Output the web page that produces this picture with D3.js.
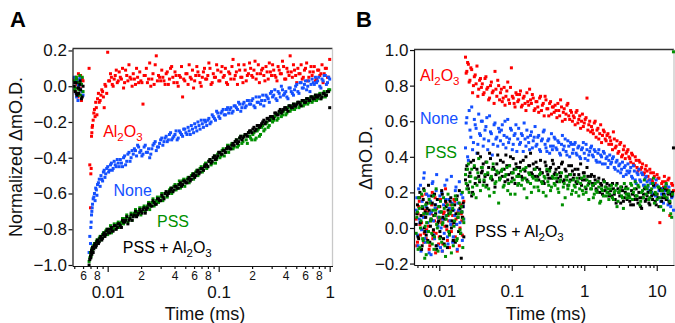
<!DOCTYPE html>
<html><head><meta charset="utf-8">
<script src="https://cdn.jsdelivr.net/npm/d3@7"></script>
<style>body{margin:0;background:#fff}svg{display:block}text{font-family:"Liberation Sans",Arial,Helvetica,sans-serif}</style>
</head><body><svg id="c" width="675" height="323"></svg>
<script>
// ---------- Panel A data (normalized), sweep 1 ----------
const timesA = [
0.0050,0.0051,0.0052,0.0053,0.0054,0.0055,0.0056,0.0057,0.0058,0.0060,
0.0068,0.0070,0.0071,0.0072,0.0073,0.0075,0.0077,0.0079,0.0081,0.0084,
0.0087,0.0090,0.0093,0.0096,0.0100,0.0104,0.0108,0.0112,0.0117,0.0122,
0.0127,0.0133,0.0139,0.0145,0.0152,0.0159,0.0166,0.0174,0.0182,0.0190,
0.0199,0.0208,0.0218,0.0228,0.0239,0.0250,0.0262,0.0274,0.0287,0.0300,
0.0314,0.0329,0.0344,0.0360,0.0377,0.0395,0.0413,0.0432,0.0452,0.0473,
0.0495,0.0518,0.0542,0.0567,0.0594,0.0621,0.0650,0.0680,0.0712,0.0745,
0.0780,0.0816,0.0854,0.0894,0.0936,0.0980,0.1025,0.1073,0.1123,0.1175,
0.1230,0.1287,0.1347,0.1410,0.1476,0.1545,0.1617,0.1692,0.1771,0.1853,
0.1940,0.2030,0.2125,0.2224,0.2327,0.2436,0.2550,0.2668,0.2793,0.2923,
0.3059,0.3202,0.3351,0.3507,0.3670,0.3841,0.4020,0.4208,0.4404,0.4609,
0.4824,0.5049,0.5284,0.5530,0.5788,0.6058,0.6340,0.6636,0.6945,0.7269,
0.7608,0.7963,0.8334,0.8722,0.9129,0.9554,1.0000];
const aAl2O3 = [
0.04,-0.03,0.05,0.01,-0.06,0.02,-0.02,0.06,-0.08,0.03,
0.10,-0.68,-0.46,-0.26,-0.22,-0.15,-0.17,-0.12,-0.07,-0.09,
-0.05,-0.03,-0.12,0.00,0.19,0.03,0.05,0.00,0.06,0.02,
0.08,0.04,-0.01,0.09,0.03,0.05,0.00,0.04,0.10,0.02,
0.03,-0.10,0.06,0.02,0.13,0.04,0.01,0.17,0.06,0.03,
0.05,0.01,0.08,0.04,0.11,0.02,0.06,0.00,0.05,-0.06,
0.03,0.07,0.12,0.04,-0.01,0.06,0.08,0.02,0.05,0.10,
0.04,0.13,0.01,0.07,0.05,0.09,0.03,0.11,0.06,0.02,
0.08,0.04,0.15,0.06,0.01,0.09,0.05,0.12,0.03,0.07,
0.10,0.05,0.14,0.07,0.02,0.09,0.06,0.11,0.04,0.08,
0.12,0.06,0.03,0.09,0.07,0.11,0.04,0.08,0.17,0.05,
0.09,0.02,0.07,0.12,0.05,0.10,0.03,0.08,0.06,0.11,
0.04,0.09,0.07,0.02,0.10,0.05,0.15];
const aNone = [
0.05,0.02,-0.04,0.03,-0.08,0.00,0.04,-0.02,0.01,-0.05,
-0.93,-0.88,-0.76,-0.70,-0.66,-0.62,-0.64,-0.58,-0.55,-0.52,
-0.50,-0.53,-0.47,-0.49,-0.45,-0.47,-0.43,-0.46,-0.44,-0.41,
-0.45,-0.43,-0.40,-0.44,-0.38,-0.42,-0.36,-0.35,-0.39,-0.34,
-0.36,-0.38,-0.33,-0.37,-0.40,-0.35,-0.32,-0.36,-0.34,-0.30,
-0.33,-0.29,-0.31,-0.27,-0.30,-0.28,-0.25,-0.29,-0.26,-0.28,
-0.24,-0.27,-0.25,-0.22,-0.26,-0.23,-0.20,-0.24,-0.21,-0.19,
-0.22,-0.18,-0.20,-0.17,-0.19,-0.15,-0.18,-0.14,-0.16,-0.13,
-0.15,-0.12,-0.14,-0.11,-0.13,-0.10,-0.12,-0.09,-0.11,-0.08,
-0.10,-0.07,-0.12,-0.09,-0.06,-0.08,-0.11,-0.05,-0.07,-0.04,
-0.06,-0.02,-0.08,-0.04,0.00,-0.05,-0.03,-0.07,-0.01,-0.04,
-0.02,0.01,-0.04,0.02,-0.01,0.03,0.00,-0.03,0.04,0.01,
0.02,0.05,-0.01,0.03,0.06,0.02,0.04];
const aPSS = [
0.03,-0.01,0.05,-0.04,0.02,-0.02,0.06,-0.05,0.01,-0.03,
-0.98,-0.93,-0.95,-0.91,-0.92,-0.89,-0.90,-0.87,-0.88,-0.85,
-0.86,-0.83,-0.84,-0.81,-0.83,-0.80,-0.82,-0.79,-0.80,-0.77,
-0.79,-0.76,-0.77,-0.74,-0.76,-0.73,-0.75,-0.71,-0.72,-0.70,
-0.72,-0.68,-0.70,-0.67,-0.69,-0.65,-0.67,-0.64,-0.65,-0.62,
-0.64,-0.60,-0.62,-0.58,-0.60,-0.56,-0.58,-0.55,-0.57,-0.53,
-0.56,-0.52,-0.54,-0.50,-0.52,-0.48,-0.50,-0.46,-0.48,-0.44,
-0.46,-0.42,-0.44,-0.40,-0.43,-0.38,-0.40,-0.36,-0.39,-0.35,
-0.37,-0.33,-0.35,-0.31,-0.34,-0.29,-0.32,-0.28,-0.30,-0.26,
-0.29,-0.27,-0.30,-0.25,-0.28,-0.23,-0.25,-0.21,-0.23,-0.19,
-0.20,-0.17,-0.19,-0.15,-0.17,-0.14,-0.16,-0.12,-0.14,-0.11,
-0.13,-0.10,-0.12,-0.09,-0.11,-0.08,-0.10,-0.07,-0.09,-0.06,
-0.08,-0.05,-0.07,-0.04,-0.06,-0.03,-0.02];
const aPSSAl2O3 = [
0.00,-0.03,0.02,-0.05,-0.01,-0.04,0.01,-0.02,-0.07,0.00,
-1.00,-0.95,-0.93,-0.94,-0.90,-0.91,-0.88,-0.89,-0.86,-0.87,
-0.84,-0.85,-0.82,-0.83,-0.80,-0.82,-0.79,-0.81,-0.78,-0.79,
-0.77,-0.79,-0.76,-0.75,-0.77,-0.74,-0.75,-0.72,-0.73,-0.71,
-0.70,-0.69,-0.71,-0.68,-0.66,-0.67,-0.65,-0.66,-0.63,-0.64,
-0.62,-0.60,-0.61,-0.59,-0.57,-0.58,-0.56,-0.57,-0.54,-0.55,
-0.53,-0.54,-0.51,-0.52,-0.49,-0.50,-0.47,-0.48,-0.46,-0.45,
-0.44,-0.42,-0.43,-0.40,-0.41,-0.39,-0.37,-0.38,-0.36,-0.35,
-0.34,-0.35,-0.32,-0.31,-0.32,-0.29,-0.30,-0.28,-0.27,-0.26,
-0.25,-0.24,-0.25,-0.22,-0.23,-0.21,-0.19,-0.20,-0.18,-0.17,
-0.17,-0.15,-0.16,-0.14,-0.15,-0.13,-0.12,-0.14,-0.11,-0.12,
-0.11,-0.10,-0.09,-0.11,-0.08,-0.09,-0.07,-0.08,-0.06,-0.07,
-0.06,-0.05,-0.07,-0.04,-0.05,-0.03,-0.12];

// ---------- Panel A, sweep 2 (interleaved sample times) ----------
const timesA2 = [
0.00505,0.00525,0.00545,0.00565,0.0059,
0.0069,0.00705,0.00715,0.00725,0.0074,0.0076,0.0078,0.0080,0.00825,0.00855,
0.00885,0.00915,0.00945,0.0098,0.0102,0.0106,0.0110,0.01145,0.01195,0.01245,
0.0130,0.0136,0.0142,0.01485,0.01555,0.01625,0.0170,0.0178,0.0186,0.01945,
0.02035,0.0213,0.0223,0.02335,0.02445,0.0256,0.0268,0.02805,0.02935,0.0307,
0.03215,0.03365,0.0352,0.03685,0.0386,0.0404,0.04225,0.0442,0.04625,0.0484,
0.05065,0.053,0.05545,0.05805,0.06075,0.06355,0.0665,0.0696,0.07285,0.07625,
0.0798,0.0835,0.0874,0.0915,0.0958,0.10025,0.1049,0.1098,0.1149,0.12025,
0.12585,0.1317,0.13785,0.1443,0.15105,0.1581,0.16545,0.17315,0.1812,0.18965,
0.1985,0.20775,0.21745,0.22755,0.23815,0.2493,0.2609,0.27305,0.2858,0.2991,
0.31305,0.32765,0.3429,0.35885,0.37555,0.39305,0.4114,0.4306,0.45065,0.47165,
0.49365,0.51665,0.5407,0.5659,0.5923,0.6199,0.6488,0.67905,0.7107,0.74385,
0.77855,0.81485,0.8528,0.89255,0.93415,0.9777];
const aAl2O3b = [
0.02,-0.05,0.07,-0.01,0.04,
-0.44,-0.49,-0.28,-0.23,-0.19,-0.13,-0.09,-0.16,-0.04,-0.08,
-0.02,-0.06,0.01,-0.04,0.03,0.07,0.01,0.04,0.09,0.03,
0.05,0.10,0.02,0.06,0.12,0.04,0.07,0.01,0.05,0.08,
0.02,0.06,0.10,0.04,0.00,0.07,0.12,0.03,0.05,0.09,
0.03,0.07,0.01,0.10,0.05,0.08,0.02,0.06,0.11,0.04,
0.07,0.01,0.05,0.09,0.03,0.11,0.06,0.00,0.08,0.04,
0.06,0.10,0.02,0.05,0.12,0.03,0.08,0.05,0.10,0.01,
0.07,0.11,0.04,0.08,0.12,0.05,0.02,0.09,0.06,0.13,
0.06,0.09,0.04,0.12,0.07,0.10,0.03,0.08,0.13,0.06,
0.09,0.05,0.11,0.07,0.14,0.04,0.10,0.06,0.08,0.12,
0.06,0.10,0.07,0.04,0.09,0.13,0.05,0.11,0.08,0.03,
0.09,0.06,0.12,0.07,0.10,0.05];
const aNoneb = [
0.03,-0.06,0.01,0.05,-0.03,
-0.84,-0.79,-0.72,-0.68,-0.63,-0.60,-0.57,-0.61,-0.54,-0.56,
-0.52,-0.48,-0.51,-0.46,-0.48,-0.44,-0.47,-0.42,-0.45,-0.43,
-0.41,-0.45,-0.39,-0.42,-0.37,-0.40,-0.38,-0.36,-0.33,-0.37,
-0.39,-0.34,-0.37,-0.35,-0.38,-0.33,-0.31,-0.34,-0.32,-0.29,
-0.31,-0.28,-0.30,-0.26,-0.29,-0.27,-0.30,-0.25,-0.27,-0.24,
-0.26,-0.23,-0.27,-0.24,-0.21,-0.25,-0.22,-0.19,-0.23,-0.20,
-0.19,-0.21,-0.16,-0.18,-0.14,-0.17,-0.15,-0.13,-0.16,-0.12,
-0.13,-0.15,-0.11,-0.12,-0.09,-0.14,-0.10,-0.12,-0.08,-0.10,
-0.08,-0.11,-0.06,-0.09,-0.10,-0.05,-0.08,-0.06,-0.09,-0.03,
-0.05,-0.07,-0.03,-0.06,-0.02,-0.04,-0.06,-0.01,-0.03,-0.05,
0.00,-0.03,0.02,-0.01,0.01,-0.02,0.03,0.01,0.02,0.05,
0.03,0.00,0.04,0.06,0.01,0.05];
const aPSSb = [
-0.02,0.04,-0.05,0.02,0.05,
-0.96,-0.94,-0.92,-0.93,-0.90,-0.88,-0.89,-0.86,-0.87,-0.84,
-0.85,-0.82,-0.83,-0.80,-0.81,-0.78,-0.80,-0.77,-0.78,-0.76,
-0.77,-0.74,-0.75,-0.72,-0.74,-0.71,-0.72,-0.69,-0.71,-0.68,
-0.70,-0.67,-0.68,-0.65,-0.67,-0.63,-0.65,-0.62,-0.64,-0.60,
-0.62,-0.59,-0.60,-0.57,-0.59,-0.55,-0.57,-0.53,-0.55,-0.52,
-0.54,-0.51,-0.52,-0.49,-0.50,-0.47,-0.48,-0.45,-0.47,-0.43,
-0.45,-0.41,-0.43,-0.39,-0.41,-0.37,-0.39,-0.35,-0.37,-0.33,
-0.35,-0.32,-0.34,-0.30,-0.33,-0.28,-0.31,-0.27,-0.32,-0.28,
-0.30,-0.26,-0.29,-0.24,-0.27,-0.22,-0.24,-0.20,-0.22,-0.18,
-0.19,-0.16,-0.18,-0.14,-0.16,-0.13,-0.15,-0.11,-0.13,-0.10,
-0.12,-0.09,-0.11,-0.08,-0.10,-0.07,-0.09,-0.06,-0.08,-0.05,
-0.07,-0.04,-0.06,-0.03,-0.05,-0.02];
const aPSSAl2O3b = [
0.02,-0.04,-0.01,0.03,-0.06,
-0.97,-0.96,-0.92,-0.91,-0.93,-0.89,-0.90,-0.87,-0.88,-0.85,
-0.86,-0.83,-0.84,-0.81,-0.82,-0.80,-0.81,-0.78,-0.80,-0.77,
-0.78,-0.75,-0.76,-0.73,-0.75,-0.72,-0.73,-0.70,-0.72,-0.69,
-0.71,-0.68,-0.69,-0.66,-0.67,-0.64,-0.66,-0.63,-0.64,-0.61,
-0.63,-0.59,-0.60,-0.58,-0.59,-0.56,-0.57,-0.55,-0.56,-0.53,
-0.54,-0.52,-0.53,-0.50,-0.51,-0.48,-0.49,-0.46,-0.47,-0.44,
-0.45,-0.41,-0.42,-0.39,-0.40,-0.37,-0.38,-0.36,-0.37,-0.34,
-0.35,-0.33,-0.33,-0.30,-0.31,-0.28,-0.29,-0.27,-0.28,-0.25,
-0.26,-0.23,-0.24,-0.22,-0.22,-0.20,-0.21,-0.18,-0.19,-0.17,
-0.18,-0.15,-0.16,-0.13,-0.14,-0.12,-0.13,-0.11,-0.12,-0.10,
-0.11,-0.09,-0.10,-0.08,-0.09,-0.07,-0.08,-0.06,-0.07,-0.05,
-0.06,-0.05,-0.06,-0.04,-0.05,-0.03];

// ---------- Panel B data (absolute ΔmO.D.), sweep 1 ----------
const timesB = [
0.0048,0.0050,0.0052,0.0054,0.0056,0.0058,0.0060,0.0062,0.0064,0.0066,
0.0068,0.0071,0.0074,0.0077,0.0080,0.0083,0.0086,0.0089,0.0092,0.0096,
0.0100,0.0104,0.0108,0.0112,0.0117,0.0122,0.0127,0.0132,0.0138,0.0144,
0.0150,0.0156,0.0163,0.0170,0.0177,0.0185,0.0193,0.0201,0.0208,0.0214,
0.0230,0.0240,0.0252,0.0265,0.0280,0.0296,0.0313,0.0331,0.0350,0.0370,
0.0392,0.0415,0.0440,0.0466,0.0494,0.0523,0.0554,0.0587,0.0622,0.0659,
0.0698,0.0740,0.0784,0.0830,0.0880,0.0932,0.0988,0.1047,0.1109,0.1175,
0.1245,0.1319,0.1398,0.1481,0.1569,0.1663,0.1762,0.1867,0.1978,0.2096,
0.2221,0.2353,0.2493,0.2642,0.2799,0.2966,0.3143,0.3330,0.3528,0.3738,
0.3961,0.4197,0.4447,0.4712,0.4993,0.5290,0.5605,0.5939,0.6293,0.6668,
0.7065,0.7486,0.7932,0.8404,0.8905,0.9435,0.9997,1.059,1.122,1.189,
1.260,1.335,1.415,1.499,1.588,1.683,1.783,1.889,2.002,2.121,
2.247,2.381,2.523,2.673,2.832,3.001,3.180,3.369,3.570,3.782,
4.008,4.246,4.499,4.767,5.051,5.352,5.671,6.009,6.366,6.746,
7.148,7.573,8.024,8.502,9.009,9.545,10.11,10.72,11.36,12.03,
12.75,13.51,14.31,15.16,16.07,17.00];
const bAl2O3 = [
0.05,-0.08,0.12,0.02,-0.12,0.18,0.07,-0.03,0.10,-0.06,
0.14,0.01,-0.10,0.08,0.20,-0.02,0.04,-0.14,0.11,0.06,
-0.05,0.16,0.03,-0.09,0.09,0.22,-0.01,0.07,-0.11,0.13,
0.02,-0.07,0.15,0.05,-0.13,0.10,0.00,0.08,-0.04,0.12,
0.96,0.88,0.92,0.83,0.89,0.80,0.86,0.91,0.78,0.84,
0.81,0.76,0.85,0.79,0.73,0.82,0.77,0.88,0.74,0.80,
0.76,0.71,0.79,0.74,0.82,0.70,0.90,0.73,0.68,0.75,
0.72,0.77,0.69,0.74,0.66,0.71,0.78,0.70,0.73,0.67,
0.71,0.65,0.74,0.69,0.63,0.72,0.67,0.70,0.64,0.68,
0.69,0.62,0.66,0.72,0.60,0.67,0.64,0.70,0.61,0.65,
0.63,0.58,0.66,0.61,0.56,0.64,0.59,0.62,0.55,0.60,
0.57,0.53,0.60,0.55,0.50,0.58,0.52,0.54,0.49,0.53,
0.51,0.47,0.54,0.45,0.49,0.43,0.48,0.41,0.46,0.42,
0.44,0.39,0.42,0.36,0.40,0.34,0.38,0.33,0.36,0.31,
0.35,0.29,0.33,0.27,0.31,0.25,0.30,0.28,0.22,0.26,
0.29,0.24,0.27,0.07,0.25,0.21];
const bNone = [
0.10,-0.04,0.22,0.03,-0.13,0.15,0.06,0.31,-0.08,0.12,
-0.02,0.18,0.08,-0.15,0.25,0.04,-0.06,0.13,0.30,0.01,
0.09,-0.11,0.20,0.05,-0.03,0.16,0.27,-0.09,0.11,0.02,
0.14,-0.05,0.07,0.23,-0.12,0.10,0.03,0.19,-0.07,0.12,
0.45,0.62,0.38,0.55,0.68,0.48,0.58,0.42,0.64,0.52,
0.60,0.50,0.57,0.44,0.63,0.53,0.47,0.59,0.51,0.56,
0.49,0.58,0.52,0.45,0.61,0.50,0.55,0.47,0.53,0.43,
0.56,0.48,0.52,0.59,0.46,0.51,0.44,0.54,0.49,0.57,
0.47,0.52,0.43,0.50,0.55,0.45,0.49,0.42,0.53,0.46,
0.50,0.44,0.48,0.41,0.52,0.46,0.43,0.49,0.40,0.47,
0.44,0.48,0.41,0.46,0.39,0.45,0.42,0.47,0.38,0.43,
0.46,0.40,0.43,0.37,0.44,0.41,0.36,0.42,0.39,0.34,
0.41,0.37,0.40,0.33,0.38,0.35,0.31,0.37,0.34,0.30,
0.36,0.32,0.29,0.35,0.27,0.31,0.33,0.26,0.30,0.24,
0.29,0.23,0.27,0.20,0.25,0.18,0.24,0.21,0.15,0.22,
0.19,0.24,0.13,0.20,0.17,0.10];
const bPSS = [
-0.03,0.09,0.17,-0.11,0.04,0.12,-0.07,0.21,0.01,-0.15,
0.08,-0.02,0.14,0.05,-0.09,0.18,-0.05,0.10,0.02,-0.13,
0.06,0.15,-0.08,0.03,0.11,-0.16,0.07,0.19,-0.04,0.09,
0.13,-0.10,0.04,0.16,-0.06,0.08,-0.01,0.12,0.20,0.05,
0.30,0.22,0.36,0.26,0.33,0.19,0.28,0.24,0.39,0.21,
0.34,0.27,0.23,0.31,0.18,0.29,0.36,0.25,0.32,0.14,
0.28,0.33,0.24,0.30,0.21,0.35,0.26,0.31,0.19,0.29,
0.25,0.32,0.27,0.22,0.34,0.26,0.30,0.20,0.28,0.33,
0.27,0.21,0.31,0.25,0.29,0.18,0.26,0.32,0.23,0.28,
0.24,0.30,0.20,0.27,0.13,0.25,0.29,0.22,0.26,0.19,
0.27,0.23,0.28,0.18,0.25,0.21,0.29,0.20,0.24,0.26,
0.22,0.17,0.25,0.20,0.23,0.15,0.21,0.26,0.18,0.22,
0.19,0.24,0.16,0.21,0.12,0.20,0.23,0.17,0.25,0.19,
0.22,0.17,0.24,0.20,0.26,0.18,0.23,0.15,0.21,0.27,
0.19,0.24,0.17,0.22,0.28,0.20,0.16,0.23,0.12,0.21,
0.18,0.25,0.20,0.15,0.06,0.99];
const bPSSAl2O3 = [
0.02,0.13,-0.06,0.20,0.07,-0.10,0.16,0.00,0.09,-0.04,
0.11,0.24,-0.08,0.05,0.14,-0.01,0.19,0.08,-0.12,0.03,
0.12,-0.05,0.21,0.06,-0.09,0.15,0.01,0.10,-0.03,0.17,
0.04,-0.07,0.13,0.08,0.18,-0.02,0.11,-0.17,0.06,0.14,
0.27,0.35,0.22,0.31,0.18,0.38,0.25,0.33,0.29,0.40,
0.32,0.26,0.37,0.30,0.42,0.28,0.34,0.23,0.36,0.31,
0.38,0.29,0.33,0.41,0.27,0.35,0.31,0.39,0.25,0.34,
0.30,0.37,0.28,0.33,0.40,0.26,0.35,0.31,0.36,0.29,
0.34,0.27,0.38,0.31,0.25,0.35,0.30,0.33,0.28,0.36,
0.31,0.26,0.34,0.29,0.37,0.27,0.32,0.24,0.30,0.35,
0.28,0.33,0.25,0.30,0.36,0.27,0.31,0.22,0.29,0.26,
0.30,0.24,0.27,0.21,0.28,0.25,0.19,0.26,0.23,0.20,
0.24,0.18,0.22,0.16,0.25,0.20,0.14,0.21,0.17,0.23,
0.19,0.15,0.21,0.13,0.18,0.16,0.20,0.12,0.17,0.22,
0.16,0.20,0.13,0.18,0.24,0.15,0.19,0.12,0.21,0.17,
0.22,0.16,0.19,0.14,0.18,0.45];

// ---------- Panel B, sweep 2 (interleaved sample times) ----------
const timesB2 = [
0.0049,0.0051,0.0053,0.0055,0.0057,0.0059,0.0061,0.0063,0.0065,0.0067,
0.00695,0.00725,0.00755,0.00785,0.00815,0.00845,0.00875,0.00905,0.0094,0.0098,
0.0102,0.0106,0.0110,0.01145,0.01195,0.01245,0.01295,0.0135,0.0141,0.0147,
0.0153,0.01595,0.01665,0.01735,0.0181,0.0189,0.0197,0.02045,0.0211,0.0218,
0.0235,0.0246,0.02585,0.02725,0.0288,0.03045,0.0322,0.03405,0.036,0.0381,
0.04035,0.04275,0.0453,0.048,0.05085,0.05385,0.05705,0.06045,0.06405,0.06785,
0.0719,0.0762,0.0807,0.0855,0.0906,0.096,0.10175,0.1078,0.1142,0.121,
0.1282,0.13585,0.14395,0.1525,0.1616,0.17125,0.18145,0.19225,0.2037,0.21585,
0.2287,0.2423,0.25675,0.27205,0.28825,0.30545,0.32365,0.3429,0.3633,0.38495,
0.4079,0.4322,0.45795,0.48525,0.51415,0.54475,0.5772,0.6116,0.64805,0.68665,
0.72755,0.7709,0.8168,0.86545,0.917,0.9716,1.029,1.0905,1.1555,1.2245,
1.2975,1.375,1.457,1.5435,1.6355,1.733,1.836,1.9455,2.0615,2.184,
2.314,2.452,2.598,2.7525,2.9165,3.0905,3.2745,3.4695,3.676,3.895,
4.127,4.3725,4.633,4.909,5.2015,5.5115,5.84,6.1875,6.556,6.947,
7.3605,7.7985,8.263,8.7555,9.277,9.8275,10.415,11.04,11.695,12.39,
13.13,13.91,14.735,15.615,16.535];
const bAl2O3b = [
-0.10,0.08,0.15,-0.04,0.03,0.11,-0.08,0.06,0.19,-0.01,
0.09,-0.12,0.04,0.13,-0.06,0.07,0.17,-0.03,0.02,-0.09,
0.12,0.05,-0.13,0.08,0.01,0.14,-0.07,0.04,0.10,-0.02,
0.07,0.16,-0.05,0.02,0.09,-0.10,0.13,0.04,0.06,0.15,
0.87,0.93,0.82,0.90,0.76,0.85,0.81,0.74,0.83,0.79,
0.75,0.84,0.78,0.72,0.80,0.76,0.70,0.78,0.83,0.72,
0.78,0.73,0.69,0.77,0.72,0.79,0.74,0.70,0.76,0.71,
0.75,0.68,0.73,0.70,0.76,0.69,0.72,0.75,0.66,0.71,
0.68,0.73,0.66,0.70,0.74,0.67,0.63,0.71,0.68,0.65,
0.66,0.70,0.63,0.68,0.65,0.61,0.69,0.63,0.66,0.60,
0.62,0.65,0.59,0.63,0.60,0.57,0.61,0.73,0.58,0.54,
0.55,0.59,0.51,0.56,0.53,0.48,0.55,0.50,0.52,0.47,
0.49,0.44,0.50,0.46,0.42,0.47,0.40,0.44,0.39,0.43,
0.40,0.37,0.41,0.35,0.38,0.32,0.37,0.34,0.30,0.33,
0.32,0.27,0.31,0.26,0.29,0.24,0.28,0.03,0.25,0.23,
0.26,0.22,0.28,0.20,0.24];
const bNoneb = [
0.17,-0.10,0.05,0.24,-0.01,0.12,0.28,-0.06,0.08,0.19,
0.03,-0.14,0.15,0.09,0.26,-0.04,0.11,0.21,-0.10,0.06,
0.18,0.00,-0.13,0.13,0.24,0.07,-0.05,0.16,0.04,0.29,
-0.08,0.10,0.21,0.02,0.14,0.26,-0.03,0.09,0.17,0.05,
0.59,0.40,0.66,0.51,0.44,0.61,0.56,0.47,0.53,0.60,
0.46,0.55,0.62,0.49,0.54,0.41,0.58,0.50,0.46,0.54,
0.55,0.47,0.60,0.51,0.48,0.56,0.44,0.52,0.58,0.50,
0.47,0.53,0.43,0.50,0.55,0.48,0.52,0.45,0.51,0.46,
0.51,0.44,0.49,0.54,0.47,0.43,0.50,0.46,0.44,0.51,
0.45,0.49,0.42,0.47,0.44,0.50,0.41,0.46,0.48,0.42,
0.47,0.42,0.45,0.40,0.44,0.48,0.39,0.44,0.41,0.45,
0.41,0.44,0.38,0.42,0.37,0.40,0.43,0.36,0.40,0.38,
0.36,0.39,0.34,0.37,0.32,0.36,0.33,0.29,0.35,0.32,
0.31,0.34,0.28,0.32,0.25,0.30,0.27,0.31,0.24,0.28,
0.26,0.21,0.25,0.19,0.23,0.27,0.17,0.22,0.19,0.14,
0.21,0.16,0.23,0.12,0.18];
const bPSSb = [
0.06,-0.12,0.11,0.00,0.19,-0.06,0.08,-0.17,0.13,0.03,
-0.08,0.16,0.04,-0.03,0.10,-0.12,0.07,0.22,0.00,0.12,
-0.06,0.09,0.02,0.17,-0.10,0.05,0.13,-0.02,0.08,-0.14,
0.11,0.01,0.18,-0.07,0.06,0.14,-0.03,0.09,-0.11,0.03,
0.25,0.33,0.20,0.29,0.23,0.35,0.17,0.31,0.27,0.34,
0.24,0.30,0.37,0.22,0.28,0.33,0.20,0.26,0.31,0.27,
0.32,0.23,0.29,0.34,0.25,0.19,0.31,0.27,0.33,0.24,
0.29,0.24,0.33,0.28,0.17,0.31,0.25,0.29,0.23,0.27,
0.23,0.30,0.26,0.20,0.28,0.33,0.24,0.21,0.29,0.25,
0.28,0.22,0.26,0.31,0.23,0.17,0.27,0.24,0.30,0.21,
0.24,0.20,0.26,0.22,0.28,0.19,0.23,0.27,0.16,0.22,
0.24,0.19,0.21,0.26,0.14,0.22,0.18,0.23,0.20,0.16,
0.22,0.17,0.20,0.24,0.15,0.21,0.18,0.11,0.22,0.17,
0.19,0.25,0.16,0.22,0.18,0.24,0.13,0.20,0.17,0.23,
0.22,0.16,0.20,0.25,0.14,0.19,0.23,0.17,0.21,0.10,
0.23,0.17,0.21,0.08,0.19];
const bPSSAl2O3b = [
0.08,-0.05,0.17,0.03,-0.12,0.11,0.22,-0.02,0.06,0.14,
-0.07,0.10,0.01,0.18,-0.04,0.07,0.13,-0.10,0.16,0.04,
-0.02,0.09,0.19,-0.06,0.05,0.12,-0.11,0.08,0.15,0.00,
0.10,0.03,-0.08,0.16,0.06,0.21,-0.03,0.09,0.12,-0.05,
0.33,0.24,0.29,0.37,0.20,0.34,0.28,0.42,0.26,0.31,
0.36,0.29,0.24,0.34,0.39,0.27,0.33,0.30,0.41,0.28,
0.32,0.37,0.26,0.35,0.30,0.40,0.28,0.33,0.36,0.29,
0.34,0.29,0.38,0.32,0.27,0.35,0.42,0.30,0.33,0.37,
0.29,0.33,0.31,0.26,0.37,0.32,0.28,0.34,0.38,0.30,
0.33,0.28,0.31,0.36,0.26,0.33,0.29,0.35,0.27,0.32,
0.30,0.26,0.33,0.28,0.24,0.31,0.27,0.34,0.25,0.29,
0.25,0.29,0.22,0.26,0.20,0.24,0.27,0.21,0.25,0.18,
0.21,0.25,0.19,0.14,0.22,0.18,0.23,0.15,0.20,0.16,
0.18,0.13,0.19,0.16,0.22,0.14,0.17,0.11,0.19,0.15,
0.18,0.14,0.21,0.16,0.19,0.13,0.17,0.22,0.15,0.19,
0.17,0.21,0.15,0.19,0.20];

// ---------- ticks & labels ----------
const yTicksA = [0.2,0.0,-0.2,-0.4,-0.6,-0.8,-1.0];
const yTicksB = [1.0,0.8,0.6,0.4,0.2,0.0,-0.2];
const xMinorA = [0.005,0.006,0.007,0.008,0.009,0.02,0.03,0.04,0.05,0.06,0.07,0.08,0.09,0.2,0.3,0.4,0.5,0.6,0.7,0.8,0.9];
const xMinorLabelsA = ["","6","","8","","2","","4","","6","","8","","2","","4","","6","","8",""];
const xMajorA = [0.01,0.1,1];
const xMajorLabelsA = ["0.01","0.1","1"];
const xMinorB = [0.005,0.006,0.007,0.008,0.009,0.02,0.03,0.04,0.05,0.06,0.07,0.08,0.09,0.2,0.3,0.4,0.5,0.6,0.7,0.8,0.9,2,3,4,5,6,7,8,9];
const xMajorB = [0.01,0.1,1,10];
const xMajorLabelsB = ["0.01","0.1","1","10"];

const colors = {Al2O3:"#ff0000", None:"#1450ff", PSS:"#009000", PSSAl2O3:"#000000"};

// ---------- drawing ----------
const svg = d3.select("#c");
const FF = '"Liberation Sans",Arial,Helvetica,sans-serif';
const fmtY = d => (d < 0 ? "\u2212" : "") + Math.abs(d).toFixed(1);

function drawPanel(o) {
  const g = svg.append("g");
  const x = d3.scaleLog().domain(o.xDom).range(o.xRange);
  const y = d3.scaleLinear().domain(o.yDom).range(o.yRange);
  g.append("line").attr("x1", o.xRange[0]).attr("x2", o.xRange[1]).attr("y1", o.yRange[1]).attr("y2", o.yRange[1])
    .attr("stroke", "#333").attr("stroke-width", 1.3);
  g.append("line").attr("x1", o.xRange[1]).attr("x2", o.xRange[1]).attr("y1", o.yRange[1]).attr("y2", o.yRange[0])
    .attr("stroke", "#c8c8c8").attr("stroke-width", 1.3);
  o.series.forEach(s => {
    const pts = [];
    s.sweeps.forEach(([ts, vs]) => ts.forEach((t, i) => pts.push([t, vs[i]])));
    g.append("g").selectAll("rect").data(pts).join("rect")
      .attr("x", d => x(d[0]) - 1.5).attr("y", d => y(d[1]) - 1.5)
      .attr("width", 3).attr("height", 3).attr("fill", s.color);
  });
  const ya = g.append("g").attr("transform", `translate(${o.xRange[0]},0)`)
    .call(d3.axisLeft(y).tickValues(o.yTicks).tickSize(4).tickSizeOuter(0).tickPadding(1.5).tickFormat(fmtY));
  ya.selectAll("text").attr("font-size", 17).attr("fill", "#111").attr("font-family", FF);
  const xm = g.append("g").attr("transform", `translate(0,${o.yRange[0]})`)
    .call(d3.axisBottom(x).tickValues(o.xMinor).tickSize(3).tickSizeOuter(0).tickPadding(2)
      .tickFormat((d, i) => o.xMinorLabels ? o.xMinorLabels[i] : ""));
  xm.select(".domain").remove();
  xm.selectAll("text").style("font-size", "12px").attr("fill", "#111").attr("font-family", FF);
  const xM = g.append("g").attr("transform", `translate(0,${o.yRange[0]})`)
    .call(d3.axisBottom(x).tickValues(o.xMajor).tickSize(6).tickSizeOuter(0).tickPadding(14)
      .tickFormat((d, i) => o.xMajorLabels[i]));
  xM.selectAll("text").style("font-size", "17px").attr("fill", "#111").attr("font-family", FF);
  [ya, xm, xM].forEach(a => a.selectAll("path,line").attr("stroke", "#111").attr("stroke-width", 1.2));
  g.append("text").attr("x", o.xTitleX).attr("y", 320).attr("text-anchor", "middle").attr("font-size", 18).attr("fill", "#111").text("Time (ms)");
  g.append("text").attr("transform", `translate(${o.yTitleX},${o.yTitleY}) rotate(-90)`).attr("text-anchor", "middle")
    .attr("font-size", 18).attr("fill", "#111").text(o.yTitle);
  g.append("text").attr("x", o.letterX).attr("y", 27).attr("font-size", 22).attr("font-weight", "bold").attr("fill", "#000").text(o.letter);
  o.labels.forEach(l => {
    const t = g.append("text").attr("x", x(l.t)).attr("y", y(l.v)).attr("font-size", 16).attr("fill", l.color);
    if (l.sub) {
      if (l.prefix) t.append("tspan").text(l.prefix);
      t.append("tspan").text("Al");
      t.append("tspan").attr("font-size", 11.5).attr("dy", 4).text("2");
      t.append("tspan").attr("dy", -4).text("O");
      t.append("tspan").attr("font-size", 11.5).attr("dy", 4).text("3");
    } else t.text(l.text);
  });
}

drawPanel({
  letter: "A", letterX: 10, xTitleX: 205, yTitleX: 22, yTitleY: 157, yTitle: "Normalized \u0394mO.D.",
  xDom: [0.00482, 1.06], xRange: [72.5, 332.5], yDom: [-1.0056, 0.211], yRange: [266, 48.5],
  yTicks: yTicksA, xMinor: xMinorA, xMinorLabels: xMinorLabelsA, xMajor: xMajorA, xMajorLabels: xMajorLabelsA,
  series: [
    {sweeps: [[timesA, aAl2O3], [timesA2, aAl2O3b]], color: colors.Al2O3},
    {sweeps: [[timesA, aNone], [timesA2, aNoneb]], color: colors.None},
    {sweeps: [[timesA, aPSS], [timesA2, aPSSb]], color: colors.PSS},
    {sweeps: [[timesA, aPSSAl2O3], [timesA2, aPSSAl2O3b]], color: colors.PSSAl2O3}],
  labels: [
    {t: 0.0091, v: -0.285, color: colors.Al2O3, sub: true},
    {t: 0.0113, v: -0.614, color: colors.None, text: "None"},
    {t: 0.0278, v: -0.787, color: colors.PSS, text: "PSS"},
    {t: 0.0137, v: -0.933, color: colors.PSSAl2O3, sub: true, prefix: "PSS + "}]
});

drawPanel({
  letter: "B", letterX: 356, xTitleX: 546, yTitleX: 372, yTitleY: 158, yTitle: "\u0394mO.D.",
  xDom: [0.00448, 17.3], xRange: [414, 674], yDom: [-0.208, 1.003], yRange: [265, 49.5],
  yTicks: yTicksB, xMinor: xMinorB, xMinorLabels: null, xMajor: xMajorB, xMajorLabels: xMajorLabelsB,
  series: [
    {sweeps: [[timesB, bAl2O3], [timesB2, bAl2O3b]], color: colors.Al2O3},
    {sweeps: [[timesB, bNone], [timesB2, bNoneb]], color: colors.None},
    {sweeps: [[timesB, bPSSAl2O3], [timesB2, bPSSAl2O3b]], color: colors.PSSAl2O3},
    {sweeps: [[timesB, bPSS], [timesB2, bPSSb]], color: colors.PSS}],
  labels: [
    {t: 0.00542, v: 0.826, color: colors.Al2O3, sub: true},
    {t: 0.00542, v: 0.585, color: colors.None, text: "None"},
    {t: 0.00635, v: 0.393, color: colors.PSS, text: "PSS"},
    {t: 0.031, v: -0.05, color: colors.PSSAl2O3, sub: true, prefix: "PSS + "}]
});
</script></body></html>
